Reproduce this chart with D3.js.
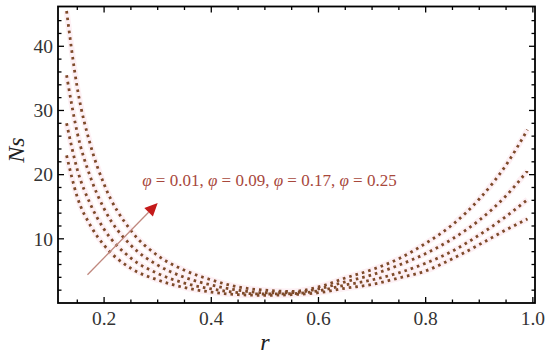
<!DOCTYPE html>
<html>
<head>
<meta charset="utf-8">
<script src="https://cdn.jsdelivr.net/npm/d3@7"></script>
<style>
  body { margin: 0; background: #fff; }
  svg { display: block; }
  text { font-family: 'Liberation Serif', 'Times New Roman', Times, serif; }
  .tick-label { font-size: 19.5px; fill: #333; }
</style>
</head>
<body>
<div id="chart"></div>
<script>
const rValues = [0.13, 0.15, 0.175, 0.2, 0.25, 0.3, 0.35, 0.4, 0.45, 0.5, 0.55, 0.6, 0.65, 0.7, 0.75, 0.8, 0.85, 0.9, 0.95, 0.99];
// Ns for each phi
const ns1 = [45.5, 33.5, 24.5, 18.5, 11.3, 7.4, 5.1, 3.6, 2.5, 2.0, 1.8, 2.5, 3.9, 5.2, 6.9, 9.3, 12.2, 16.2, 21.5, 27.0];
const ns2 = [35.5, 26.5, 19.5, 14.7, 9.0, 5.9, 4.0, 2.8, 2.0, 1.6, 1.6, 2.2, 3.3, 4.4, 5.9, 7.7, 10.0, 12.9, 16.7, 20.6];
const ns3 = [28.0, 20.8, 15.3, 11.5, 7.0, 4.6, 3.1, 2.2, 1.6, 1.4, 1.45, 1.9, 2.8, 3.6, 4.7, 6.2, 8.1, 10.6, 13.5, 16.1];
const ns4 = [23.0, 16.5, 12.0, 9.0, 5.4, 3.6, 2.4, 1.7, 1.3, 1.2, 1.3, 1.6, 2.3, 2.9, 3.9, 5.0, 6.9, 9.1, 11.4, 13.1];
const phiValues = ['0.01', '0.09', '0.17', '0.25'];

const xTicks = [0.2, 0.4, 0.6, 0.8, 1.0];
const yTicks = [10, 20, 30, 40];

const width = 550, height = 357;
const margin = { top: 6.5, right: 15, bottom: 54, left: 58 };
const iw = width - margin.left - margin.right;
const ih = height - margin.top - margin.bottom;

const svg = d3.select('#chart').append('svg')
  .attr('width', width)
  .attr('height', height);

const g = svg.append('g')
  .attr('transform', 'translate(' + margin.left + ',' + margin.top + ')');

const x = d3.scaleLinear().domain([0.114, 1.004]).range([0, iw]);
const y = d3.scaleLinear().domain([0, 46.2]).range([ih, 0]);

g.append('clipPath').attr('id', 'clip')
  .append('rect').attr('width', iw).attr('height', ih);

// curves
const series = [ns1, ns2, ns3, ns4];
const line = d3.line()
  .x((d, i) => x(rValues[i]))
  .y(d => y(d))
  .curve(d3.curveMonotoneX);

const curves = g.append('g').attr('clip-path', 'url(#clip)');
series.forEach(s => {
  curves.append('path')
    .attr('d', line(s))
    .attr('fill', 'none')
    .attr('stroke', '#fdf0f4')
    .attr('stroke-width', 6);
});
series.forEach(s => {
  curves.append('path')
    .attr('d', line(s))
    .attr('fill', 'none')
    .attr('stroke', '#7e4a2a')
    .attr('stroke-width', 2.8)
    .attr('stroke-dasharray', '2.6,4');
});

// frame ticks, all four sides, pointing inward
const xMinor = d3.range(0.15, 1.001, 0.05);
const yMinor = d3.range(2, 46, 2);
const ticks = g.append('g').attr('stroke', '#000').attr('stroke-width', 1.3);
xMinor.forEach(v => {
  const major = xTicks.some(t => Math.abs(t - v) < 1e-6);
  const len = major ? 6 : 3.5;
  ticks.append('line').attr('x1', x(v)).attr('x2', x(v)).attr('y1', ih).attr('y2', ih - len);
  ticks.append('line').attr('x1', x(v)).attr('x2', x(v)).attr('y1', 0).attr('y2', len);
});
yMinor.forEach(v => {
  const major = v % 10 === 0;
  const len = major ? 6 : 3.5;
  ticks.append('line').attr('y1', y(v)).attr('y2', y(v)).attr('x1', 0).attr('x2', len);
  ticks.append('line').attr('y1', y(v)).attr('y2', y(v)).attr('x1', iw).attr('x2', iw - len);
});

g.append('rect')
  .attr('width', iw).attr('height', ih)
  .attr('fill', 'none')
  .attr('stroke', '#000')
  .attr('stroke-width', 1.8);

// tick labels
g.selectAll('.xl').data(xTicks).enter().append('text')
  .attr('class', 'tick-label')
  .attr('x', d => x(d))
  .attr('y', ih + 22)
  .attr('text-anchor', 'middle')
  .text(d => d.toFixed(1));

g.selectAll('.yl').data(yTicks).enter().append('text')
  .attr('class', 'tick-label')
  .attr('x', -5)
  .attr('y', d => y(d))
  .attr('dy', '0.35em')
  .attr('text-anchor', 'end')
  .text(d => d);

// axis titles
svg.append('text')
  .attr('x', margin.left + x(0.5))
  .attr('y', 350)
  .attr('text-anchor', 'middle')
  .attr('font-style', 'italic')
  .attr('font-size', 24)
  .attr('fill', '#222')
  .text('r');

svg.append('text')
  .attr('transform', 'translate(24,150) rotate(-90)')
  .attr('text-anchor', 'middle')
  .attr('font-style', 'italic')
  .attr('font-size', 24)
  .attr('fill', '#222')
  .text('Ns');

// annotation arrow
const arrowFrom = [0.169, 4.4];
const arrowTo = [0.3, 15.6];
const ax1 = x(arrowFrom[0]), ay1 = y(arrowFrom[1]);
const ax2 = x(arrowTo[0]), ay2 = y(arrowTo[1]);
const ang = Math.atan2(ay2 - ay1, ax2 - ax1);
const headLen = 13, headW = 6;
const bx = ax2 - headLen * Math.cos(ang), by = ay2 - headLen * Math.sin(ang);
g.append('line')
  .attr('x1', ax1).attr('y1', ay1).attr('x2', bx).attr('y2', by)
  .attr('stroke', '#c0887e').attr('stroke-width', 1.3);
g.append('path')
  .attr('d', d3.line()([
    [ax2, ay2],
    [bx - headW * Math.sin(ang), by + headW * Math.cos(ang)],
    [bx + headW * Math.sin(ang), by - headW * Math.cos(ang)]
  ]) + 'Z')
  .attr('fill', '#c41a1a');

// annotation text
const label = g.append('text')
  .attr('x', x(0.271))
  .attr('y', y(18.3))
  .attr('font-size', 17)
  .attr('fill', '#a8483c');
phiValues.forEach((p, i) => {
  label.append('tspan').attr('font-style', 'italic').text('φ');
  label.append('tspan').text(' = ' + p + (i < phiValues.length - 1 ? ', ' : ''));
});
</script>
</body>
</html>
